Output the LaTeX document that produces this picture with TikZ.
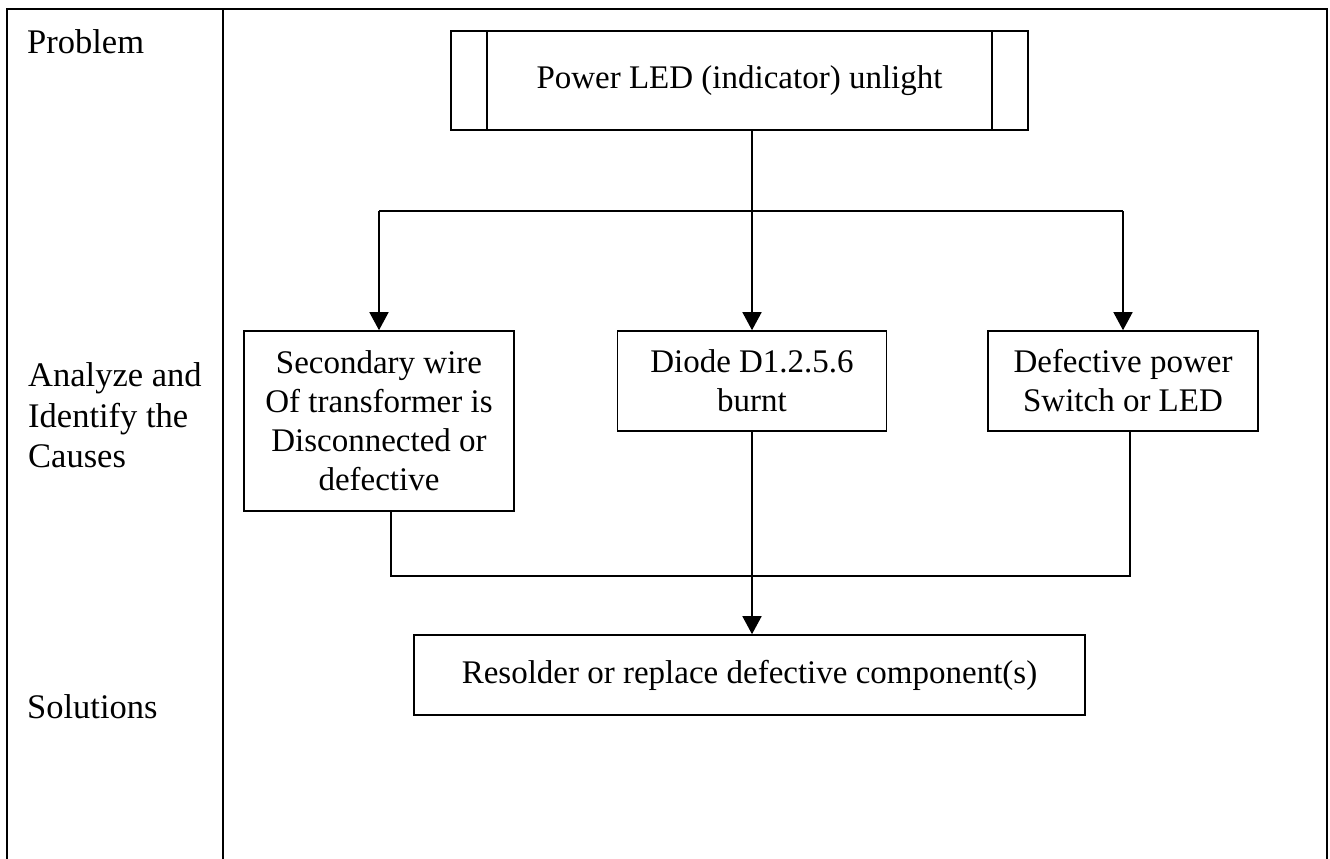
\documentclass[tikz,border=0pt]{standalone}
\usepackage{fontspec}
\setmainfont{Liberation Serif}
\usetikzlibrary{arrows.meta,calc}
\tikzset{
  frameline/.style={line width=2.2pt, black},
  box/.style={draw, line width=1.6pt, inner sep=0pt, align=center, font={\fontsize{33}{39}\selectfont}},
  lbl/.style={inner sep=0pt, align=left, font={\fontsize{34.5}{40.5}\selectfont}},
  conn/.style={line width=1.5pt},
  arr/.style={line width=1.5pt, -{Triangle[length=18pt,width=19pt]}}
}
\begin{document}
\begin{tikzpicture}[x=1pt,y=-1pt]
\useasboundingbox (0,0) rectangle (1330,859);
% frame
\draw[frameline] (7,859) -- (7,9) -- (1327,9) -- (1327,859);
\draw[frameline] (223,9) -- (223,859);
% row labels
\node[lbl, anchor=base west] (lprob) at (27,53) {Problem};
\node[lbl, anchor=north west] (lana) at (28,362.5) {Analyze and\\Identify the\\Causes};
\node[lbl, anchor=base west] (lsol) at (27,718) {Solutions};
% boxes
\node[box, minimum width=577pt, minimum height=99pt] (top) at (739.5,80.5) {Power LED (indicator) unlight};
\draw[line width=1.6pt] ($(top.north west)+(37,0)$) -- ($(top.south west)+(37,0)$);
\draw[line width=1.6pt] ($(top.north east)+(-37,0)$) -- ($(top.south east)+(-37,0)$);
\node[box, minimum width=270pt, minimum height=180pt] (left) at (379,421) {Secondary wire\\Of transformer is\\Disconnected or\\defective};
\node[box, minimum width=269pt, minimum height=100pt] (mid) at (752,381) {Diode D1.2.5.6\\burnt};
\node[box, minimum width=270pt, minimum height=100pt] (right) at (1123,381) {Defective power\\Switch or LED};
\node[box, minimum width=671pt, minimum height=80pt] (sol) at (749.5,675) {Resolder or replace defective component(s)};
% connectors
\coordinate (hub) at (752,211);
\coordinate (bl) at (391,576);
\coordinate (br) at (1130,576);
\draw[conn] (top.south -| hub) -- (hub);
\draw[conn] (left.north |- hub) -- (right.north |- hub);
\draw[arr] (left.north |- hub) -- (left.north);
\draw[arr] (hub) -- (mid.north);
\draw[arr] (right.north |- hub) -- (right.north);
\draw[conn] (left.south -| bl) -- (bl) -- (br) -- (right.south -| br);
\draw[arr] (mid.south) -- (mid.south |- sol.north);
\end{tikzpicture}
\end{document}
